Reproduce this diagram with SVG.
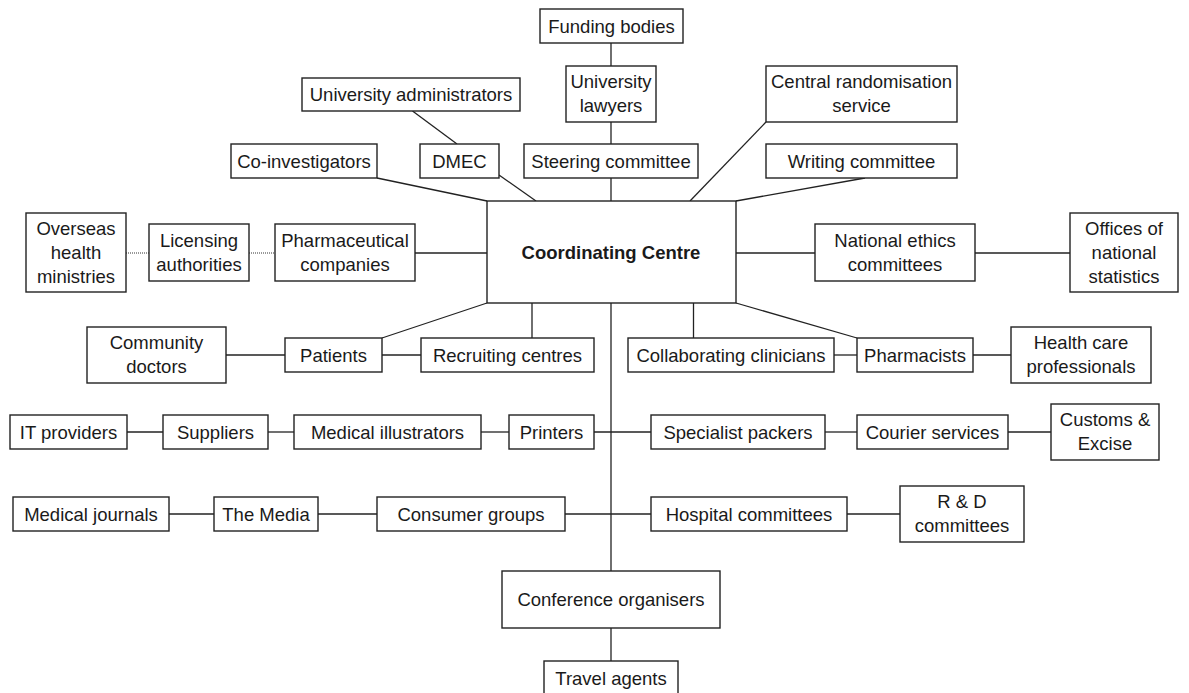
<svg xmlns="http://www.w3.org/2000/svg" width="1189" height="693" viewBox="0 0 1189 693">
<style>
  .box { fill: #ffffff; stroke: #222222; stroke-width: 1.4; }
  .t { font-family: "Liberation Sans", Arial, sans-serif; font-size: 18.5px; fill: #1a1a1a; text-anchor: middle; }
  .b { font-weight: bold; }
  .ln { stroke: #222222; stroke-width: 1.3; fill: none; }
  .dot { stroke: #333333; stroke-width: 1; stroke-dasharray: 1 1; fill: none; }
</style>
<rect width="1189" height="693" fill="#ffffff"/>
<g id="connectors">
  <line class="ln" x1="611" y1="43" x2="611" y2="66"/>
  <line class="ln" x1="611" y1="122" x2="611" y2="144"/>
  <line class="ln" x1="611" y1="178" x2="611" y2="201"/>
  <line class="ln" x1="412.5" y1="111" x2="457" y2="144"/>
  <line class="ln" x1="377" y1="178" x2="487" y2="201"/>
  <line class="ln" x1="499" y1="175" x2="536" y2="201"/>
  <line class="ln" x1="766" y1="122" x2="690" y2="201"/>
  <line class="ln" x1="865" y1="178" x2="736" y2="201"/>
  <line class="ln" x1="415" y1="253" x2="487" y2="253"/>
  <line class="dot" x1="126" y1="253" x2="149" y2="253"/>
  <line class="dot" x1="249" y1="253" x2="275" y2="253"/>
  <line class="ln" x1="736" y1="253" x2="815" y2="253"/>
  <line class="ln" x1="975" y1="253" x2="1070" y2="253"/>
  <line class="ln" x1="382" y1="338" x2="487" y2="303"/>
  <line class="ln" x1="532" y1="303" x2="532" y2="338"/>
  <line class="ln" x1="693.5" y1="303" x2="693.5" y2="338"/>
  <line class="ln" x1="736" y1="303" x2="857" y2="338"/>
  <line class="ln" x1="226" y1="355" x2="285" y2="355"/>
  <line class="ln" x1="382" y1="355" x2="421" y2="355"/>
  <line class="ln" x1="834" y1="355" x2="857" y2="355"/>
  <line class="ln" x1="973" y1="355" x2="1011" y2="355"/>
  <line class="ln" x1="611" y1="303" x2="611" y2="571"/>
  <line class="ln" x1="611" y1="628" x2="611" y2="661"/>
  <line class="ln" x1="127" y1="432" x2="163" y2="432"/>
  <line class="ln" x1="268" y1="432" x2="294" y2="432"/>
  <line class="ln" x1="481" y1="432" x2="509" y2="432"/>
  <line class="ln" x1="594" y1="432" x2="651" y2="432"/>
  <line class="ln" x1="825" y1="432" x2="857" y2="432"/>
  <line class="ln" x1="1008" y1="432" x2="1051" y2="432"/>
  <line class="ln" x1="169" y1="514" x2="214" y2="514"/>
  <line class="ln" x1="318" y1="514" x2="377" y2="514"/>
  <line class="ln" x1="565" y1="514" x2="651" y2="514"/>
  <line class="ln" x1="847" y1="514" x2="900" y2="514"/>
</g>
<g id="funding"><rect class="box" x="540" y="9" width="143" height="34"/><text class="t" x="611.5" y="32.5">Funding bodies</text></g>
<g id="univ-admin"><rect class="box" x="302" y="78" width="218" height="33"/><text class="t" x="411" y="101">University administrators</text></g>
<g id="univ-lawyers"><rect class="box" x="566" y="66" width="90" height="56"/><text class="t" x="611" y="88">University</text><text class="t" x="611" y="112">lawyers</text></g>
<g id="central-rand"><rect class="box" x="766" y="66" width="191" height="56"/><text class="t" x="861.5" y="88">Central randomisation</text><text class="t" x="861.5" y="112">service</text></g>
<g id="co-inv"><rect class="box" x="231" y="144" width="146" height="34"/><text class="t" x="304" y="167.5">Co-investigators</text></g>
<g id="dmec"><rect class="box" x="420" y="144" width="79" height="34"/><text class="t" x="459.5" y="167.5">DMEC</text></g>
<g id="steering"><rect class="box" x="524" y="144" width="174" height="34"/><text class="t" x="611" y="167.5">Steering committee</text></g>
<g id="writing"><rect class="box" x="766" y="144" width="191" height="34"/><text class="t" x="861.5" y="167.5">Writing committee</text></g>
<g id="cc"><rect class="box" x="487" y="201" width="249" height="102"/><text class="t b" x="611" y="259">Coordinating Centre</text></g>
<g id="overseas"><rect class="box" x="26" y="213" width="100" height="79"/><text class="t" x="76" y="235">Overseas</text><text class="t" x="76" y="259">health</text><text class="t" x="76" y="283">ministries</text></g>
<g id="licensing"><rect class="box" x="149" y="224" width="100" height="57"/><text class="t" x="199" y="247">Licensing</text><text class="t" x="199" y="271">authorities</text></g>
<g id="pharma"><rect class="box" x="275" y="224" width="140" height="57"/><text class="t" x="345" y="247">Pharmaceutical</text><text class="t" x="345" y="271">companies</text></g>
<g id="nec"><rect class="box" x="815" y="224" width="160" height="57"/><text class="t" x="895" y="247">National ethics</text><text class="t" x="895" y="271">committees</text></g>
<g id="offices"><rect class="box" x="1070" y="213" width="108" height="79"/><text class="t" x="1124" y="235">Offices of</text><text class="t" x="1124" y="259">national</text><text class="t" x="1124" y="283">statistics</text></g>
<g id="community"><rect class="box" x="87" y="327" width="139" height="56"/><text class="t" x="156.5" y="349">Community</text><text class="t" x="156.5" y="373">doctors</text></g>
<g id="patients"><rect class="box" x="285" y="338" width="97" height="34"/><text class="t" x="333.5" y="361.5">Patients</text></g>
<g id="recruiting"><rect class="box" x="421" y="338" width="173" height="34"/><text class="t" x="507.5" y="361.5">Recruiting centres</text></g>
<g id="collab"><rect class="box" x="628" y="338" width="206" height="34"/><text class="t" x="731" y="361.5">Collaborating clinicians</text></g>
<g id="pharmacists"><rect class="box" x="857" y="338" width="116" height="34"/><text class="t" x="915" y="361.5">Pharmacists</text></g>
<g id="hcp"><rect class="box" x="1011" y="327" width="140" height="56"/><text class="t" x="1081" y="349">Health care</text><text class="t" x="1081" y="373">professionals</text></g>
<g id="it"><rect class="box" x="10" y="415" width="117" height="34"/><text class="t" x="68.5" y="438.5">IT providers</text></g>
<g id="suppliers"><rect class="box" x="163" y="415" width="105" height="34"/><text class="t" x="215.5" y="438.5">Suppliers</text></g>
<g id="med-ill"><rect class="box" x="294" y="415" width="187" height="34"/><text class="t" x="387.5" y="438.5">Medical illustrators</text></g>
<g id="printers"><rect class="box" x="509" y="415" width="85" height="34"/><text class="t" x="551.5" y="438.5">Printers</text></g>
<g id="packers"><rect class="box" x="651" y="415" width="174" height="34"/><text class="t" x="738" y="438.5">Specialist packers</text></g>
<g id="courier"><rect class="box" x="857" y="415" width="151" height="34"/><text class="t" x="932.5" y="438.5">Courier services</text></g>
<g id="customs"><rect class="box" x="1051" y="404" width="108" height="56"/><text class="t" x="1105" y="426">Customs &amp;</text><text class="t" x="1105" y="450">Excise</text></g>
<g id="journals"><rect class="box" x="13" y="497" width="156" height="34"/><text class="t" x="91" y="520.5">Medical journals</text></g>
<g id="media"><rect class="box" x="214" y="497" width="104" height="34"/><text class="t" x="266" y="520.5">The Media</text></g>
<g id="consumer"><rect class="box" x="377" y="497" width="188" height="34"/><text class="t" x="471" y="520.5">Consumer groups</text></g>
<g id="hospital"><rect class="box" x="651" y="497" width="196" height="34"/><text class="t" x="749" y="520.5">Hospital committees</text></g>
<g id="rd"><rect class="box" x="900" y="486" width="124" height="56"/><text class="t" x="962" y="508">R &amp; D</text><text class="t" x="962" y="532">committees</text></g>
<g id="conference"><rect class="box" x="502" y="571" width="218" height="57"/><text class="t" x="611" y="606">Conference organisers</text></g>
<g id="travel"><rect class="box" x="544" y="661" width="134" height="40"/><text class="t" x="611" y="684.5">Travel agents</text></g>
</svg>
